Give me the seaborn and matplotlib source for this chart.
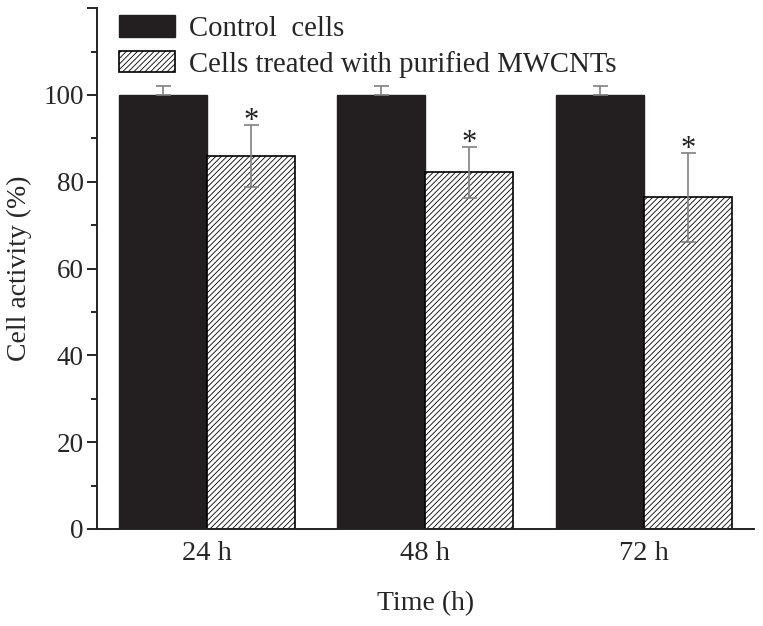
import pandas as pd
import numpy as np
import matplotlib.pyplot as plt
import seaborn as sns
from matplotlib.patches import Patch
from matplotlib.ticker import MultipleLocator

# data
times = ['24 h', '48 h', '72 h']
groups = ['Control  cells', 'Cells treated with purified MWCNTs']
control_mean = [100, 100, 100]
control_err = [2.0, 2.0, 2.0]
treated_mean = [85.9, 82.2, 76.4]
treated_err = [7.2, 5.9, 10.2]
y_ticks = [0, 20, 40, 60, 80, 100]

df = pd.DataFrame({
    'time': times * 2,
    'group': [groups[0]] * 3 + [groups[1]] * 3,
    'value': control_mean + treated_mean,
})

sns.set_style('ticks')
plt.rcParams['font.family'] = ['Liberation Serif', 'DejaVu Serif']
plt.rcParams['hatch.linewidth'] = 0.6

fig = plt.figure(figsize=(7.63, 6.26), dpi=100)
ax = fig.add_axes([0.127, 0.155, 0.861, 0.832])

bar_black = '#231f20'
sns.barplot(data=df, x='time', y='value', hue='group', order=times, hue_order=groups,
            palette=[bar_black, 'white'], width=0.806, gap=0, errorbar=None,
            saturation=1, legend=False, ax=ax)

# style the bars: first three are control, next three treated
bars = ax.patches[:6]
for p in bars[:3]:
    p.set_facecolor(bar_black)
    p.set_edgecolor(bar_black)
for p in bars[3:]:
    p.set_facecolor('white')
    p.set_edgecolor('black')
    p.set_hatch('//////')
    p.set_linewidth(1.2)

# error bars at the bar centres
err_color = '#808080'
cx = [p.get_x() + p.get_width() / 2 for p in bars[:3]]
tx = [p.get_x() + p.get_width() / 2 for p in bars[3:]]
ax.errorbar(cx, control_mean, yerr=[np.zeros(3), control_err], fmt='none',
            ecolor=err_color, elinewidth=1.2, capsize=5.4, capthick=1.2, zorder=5)
ax.errorbar(tx, treated_mean, yerr=treated_err, fmt='none',
            ecolor=err_color, elinewidth=1.2, capsize=5.4, capthick=1.2, zorder=5)

# significance stars
for x, m, e in zip(tx, treated_mean, treated_err):
    ax.text(x, m + e - 1.0, '*', ha='center', va='baseline', fontsize=22, color='#222222')

ax.set_xlim(-0.503, 2.503)
ax.set_ylim(0, 120)
ax.set_yticks(list(range(0, 121, 20)))
ax.set_yticklabels([str(v) for v in y_ticks] + [''])
ax.yaxis.set_minor_locator(MultipleLocator(10))
ax.tick_params(axis='y', which='major', length=7.5, width=1.4, labelsize=19.5, pad=2)
ax.tick_params(axis='y', which='minor', length=4, width=1.4)
ax.tick_params(axis='x', length=0, labelsize=20.5, pad=9)

ax.set_xlabel('Time (h)', fontsize=20, labelpad=18)
ax.set_ylabel('Cell activity (%)', fontsize=20, labelpad=8)

sns.despine(ax=ax)
for s in ['left', 'bottom']:
    ax.spines[s].set_linewidth(1.4)
    ax.spines[s].set_color('#222222')

handles = [Patch(facecolor=bar_black, edgecolor=bar_black),
           Patch(facecolor='white', edgecolor='black', hatch='//////', linewidth=1.2)]
ax.legend(handles, groups, loc='upper left', bbox_to_anchor=(0.0155, 1.008),
          frameon=False, fontsize=20.7, handlelength=1.95, handleheight=0.75,
          handletextpad=0.5, labelspacing=0.3, borderaxespad=0)

fig.savefig('out.png', dpi=100)
